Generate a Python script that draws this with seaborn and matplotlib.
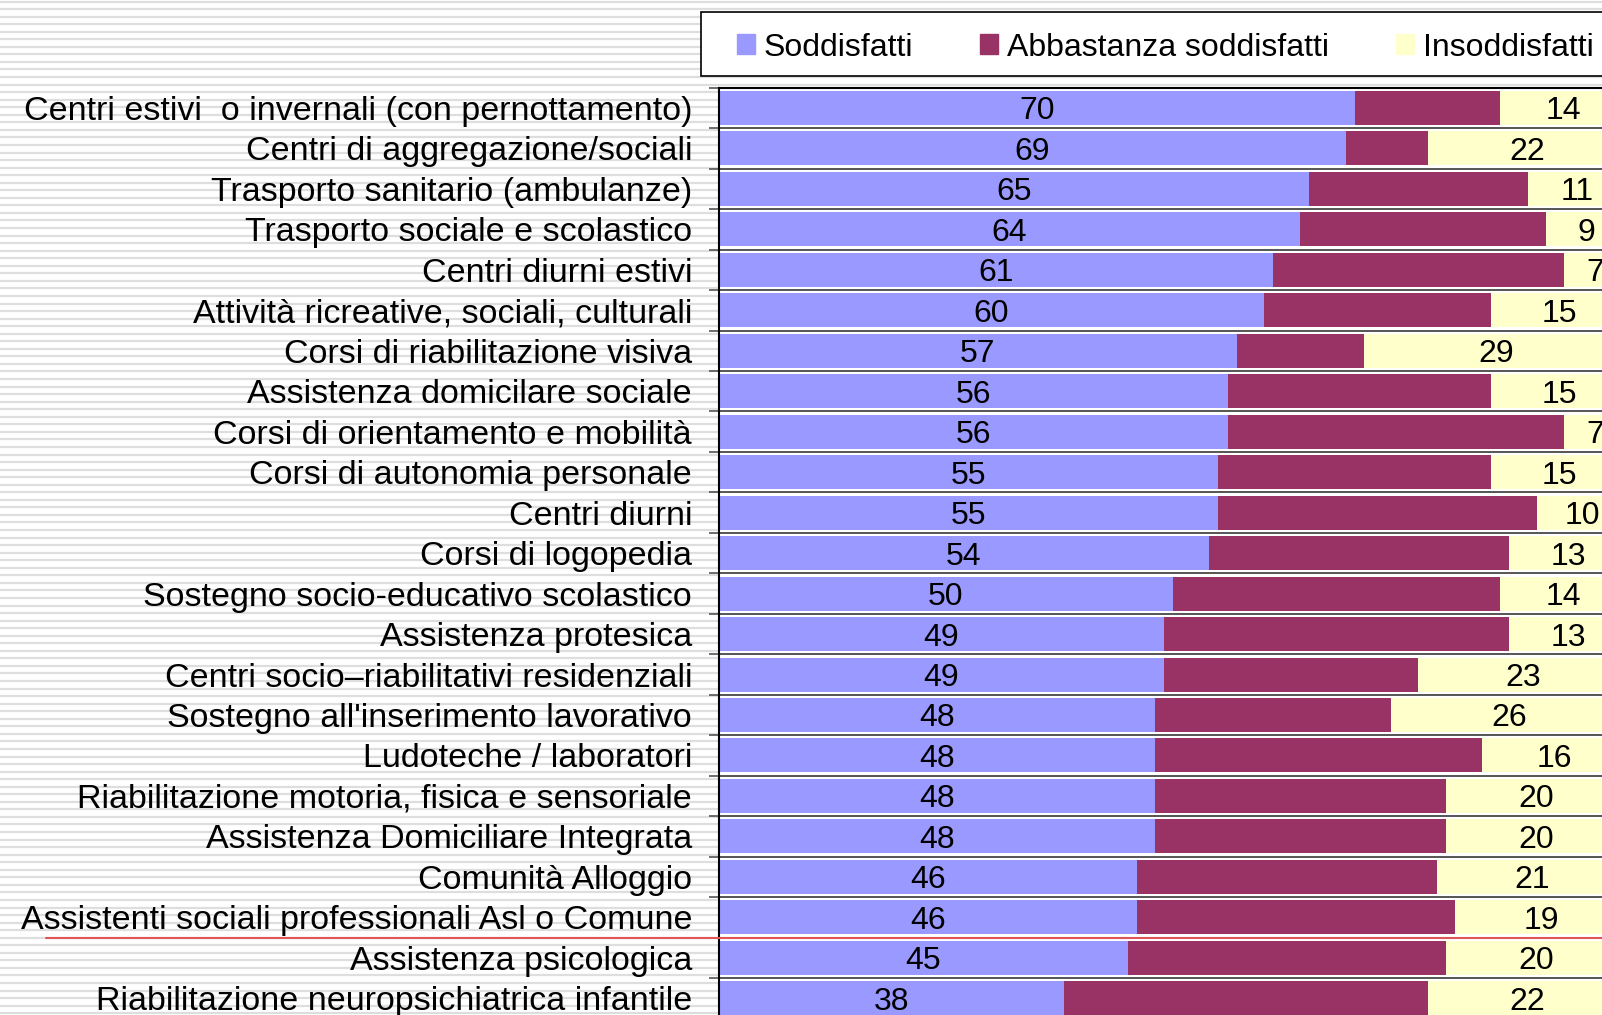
import numpy as np
import pandas as pd
import matplotlib.pyplot as plt
import seaborn as sns
from matplotlib.patches import Rectangle, Patch
from matplotlib.transforms import blended_transform_factory

# dati (percentuali)
servizi = [
    'Centri estivi  o invernali (con pernottamento)',
    'Centri di aggregazione/sociali',
    'Trasporto sanitario (ambulanze)',
    'Trasporto sociale e scolastico',
    'Centri diurni estivi',
    'Attività ricreative, sociali, culturali',
    'Corsi di riabilitazione visiva',
    'Assistenza domicilare sociale',
    'Corsi di orientamento e mobilità',
    'Corsi di autonomia personale',
    'Centri diurni',
    'Corsi di logopedia',
    'Sostegno socio-educativo scolastico',
    'Assistenza protesica',
    'Centri socio–riabilitativi residenziali',
    "Sostegno all'inserimento lavorativo",
    'Ludoteche / laboratori',
    'Riabilitazione motoria, fisica e sensoriale',
    'Assistenza Domiciliare Integrata',
    'Comunità Alloggio',
    'Assistenti sociali professionali Asl o Comune',
    'Assistenza psicologica',
    'Riabilitazione neuropsichiatrica infantile',
]
soddisfatti = [70, 69, 65, 64, 61, 60, 57, 56, 56, 55, 55, 54, 50, 49, 49, 48, 48, 48, 48, 46, 46, 45, 38]
abbastanza = [16, 9, 24, 27, 32, 25, 14, 29, 37, 30, 35, 33, 36, 38, 28, 26, 36, 32, 32, 33, 35, 35, 40]
insoddisfatti = [14, 22, 11, 9, 7, 15, 29, 15, 7, 15, 10, 13, 14, 13, 23, 26, 16, 20, 20, 21, 19, 20, 22]

serie = ['Soddisfatti', 'Abbastanza soddisfatti', 'Insoddisfatti']
colori = ['#9999FF', '#993366', '#FFFFCC']

df = pd.DataFrame({'Servizio': servizi, 'Sodd': soddisfatti,
                   'Abb': abbastanza, 'Ins': insoddisfatti})
df['cum2'] = df['Sodd'] + df['Abb']
df['cum3'] = df['cum2'] + df['Ins']

sns.set_style('white')
plt.rcParams['font.family'] = ['Liberation Sans', 'DejaVu Sans']
plt.rcParams['text.color'] = 'black'
plt.rcParams['ytick.labelcolor'] = 'black'

W, H = 1602, 1015
fig = plt.figure(figsize=(W / 100, H / 100), dpi=100)

# sfondo a righe orizzontali
bg = fig.add_axes([0, 0, 1, 1], zorder=-10)
bg.set_xlim(0, 1)
bg.set_ylim(H, 0)
bg.axis('off')
for yy in np.arange(1.5, H, 7.55):
    bg.axhline(yy, color='#dedede', lw=1.6)

ax = fig.add_axes([718.5 / W, -3.5 / H, 909 / W, 930.8 / H])
ax.set_facecolor('white')

# barre impilate (totali cumulativi sovrapposti)
sns.barplot(data=df, x='cum3', y='Servizio', orient='h', color=colori[2],
            saturation=1, width=0.84, linewidth=0, ax=ax)
sns.barplot(data=df, x='cum2', y='Servizio', orient='h', color=colori[1],
            saturation=1, width=0.84, linewidth=0, ax=ax)
sns.barplot(data=df, x='Sodd', y='Servizio', orient='h', color=colori[0],
            saturation=1, width=0.84, linewidth=0, ax=ax)

# etichette valori
for i, r in df.iterrows():
    ax.text(r['Sodd'] / 2, i, str(r['Sodd']), ha='center', va='center_baseline',
            fontsize=23, color='black')
    ax.text(r['cum2'] + r['Ins'] / 2, i, str(r['Ins']), ha='center',
            va='center_baseline', fontsize=23, color='black', clip_on=False)

ax.set_xlim(0, 100)
ax.set_ylim(len(servizi) - 0.5, -0.5)
ax.set_xticks([])
ax.set_xlabel('')
ax.set_ylabel('')
ax.set_yticks(np.arange(-0.5, len(servizi), 1), minor=True)
ax.tick_params(axis='y', which='major', length=0, pad=19, labelsize=24.5,
               labelcolor='black')
ax.tick_params(axis='y', which='minor', left=True, length=7, width=1.2,
               color='#555555', direction='out')
ax.grid(False)
ax.grid(True, axis='y', which='minor', color='#555555', lw=1.4)
ax.set_axisbelow(True)
for side in ['left', 'top']:
    ax.spines[side].set_color('black')
    ax.spines[side].set_linewidth(1.5)
ax.spines['right'].set_visible(False)
ax.spines['bottom'].set_visible(False)

# linea rossa sotto "Assistenti sociali..."
tr = blended_transform_factory(fig.transFigure, ax.transData)
ax.plot([46 / W, 1.0], [20.5, 20.5], transform=tr, color='#e05555',
        lw=1.5, clip_on=False, zorder=6)

# riquadro della legenda
fig.patches.append(Rectangle((701 / W, 1 - 76 / H), 0.6, 63.5 / H,
                             transform=fig.transFigure, facecolor='white',
                             edgecolor='black', lw=1.2, zorder=1))
handles = [Patch(color=c) for c in colori]
fig.legend(handles, serie, loc='center left', bbox_to_anchor=(737 / W, 1 - 47.5 / H),
           ncol=3, frameon=False, fontsize=23, handlelength=0.56, handleheight=0.56,
           handletextpad=0.28, columnspacing=2.1, borderpad=0, borderaxespad=0,
           labelcolor='black')

fig.savefig('out.png', dpi=100)
